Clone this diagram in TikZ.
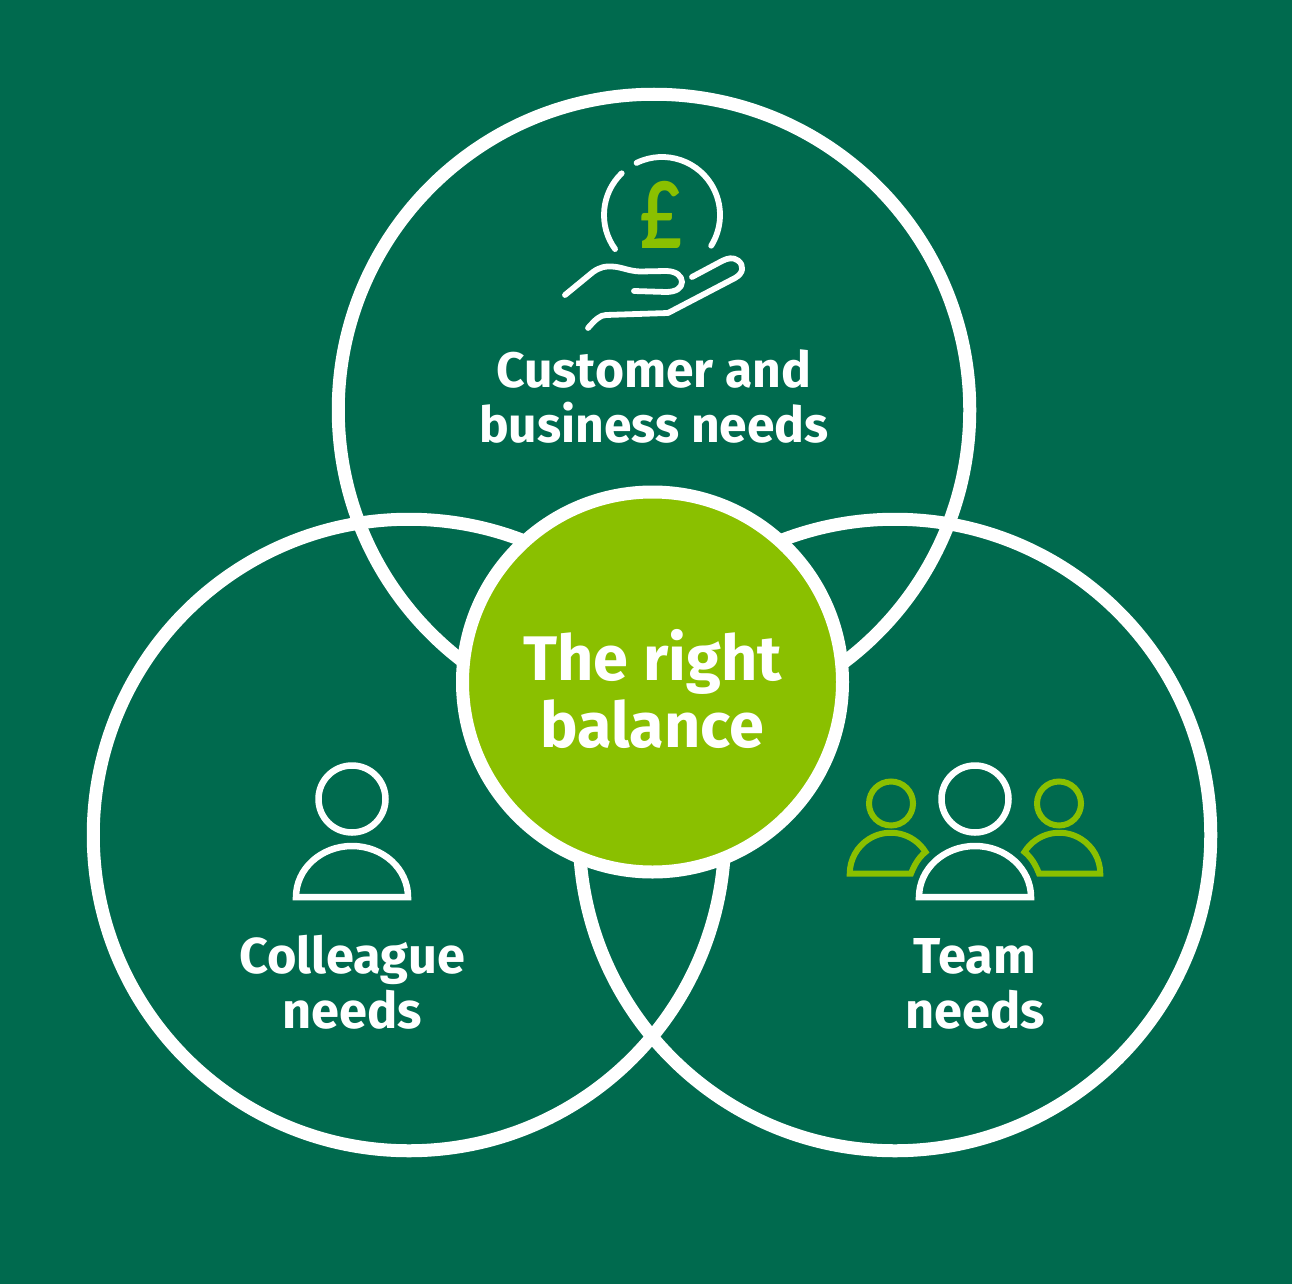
\documentclass[tikz,border=0pt]{standalone}
\usepackage{fontspec}
\setmainfont{Fira Sans}
\newfontfamily\poundfont{Lato}
\definecolor{bgG}{HTML}{006A4E}
\definecolor{limeG}{HTML}{8AC000}
\tikzset{
  ring/.style={draw=white,line width=13pt,circle,minimum size=631.5pt,inner sep=0pt,outer sep=0pt},
  hub/.style={draw=white,fill=limeG,line width=13pt,circle,minimum size=380pt,inner sep=0pt,outer sep=0pt},
  label/.style={text=white,align=center,font=\bfseries\fontsize{50.5}{55}\selectfont,inner sep=0pt},
  toplabel/.style={text=white,align=center,font=\bfseries\fontsize{49.8}{55}\selectfont,inner sep=0pt},
  hublabel/.style={text=white,align=center,font=\bfseries\fontsize{63}{67}\selectfont,inner sep=0pt},
  icon/.style={draw=white,line width=5.8pt,line cap=round,line join=round},
  bigperson/.style={draw=white,line width=6.5pt,miter limit=10},
  smallperson/.style={draw=limeG,line width=6pt,miter limit=10}
}
\begin{document}
\begin{tikzpicture}[x=1pt,y=1pt,yscale=-1]
\useasboundingbox (0,0) rectangle (1292,1284);
\fill[bgG] (0,0) rectangle (1292,1284);
% rings
\node[ring] (customer) at (654,410) {};
\node[ring] (colleague) at (409,835) {};
\node[ring] (team) at (895,835) {};
\node[hub] (balance) at (652.5,682) {};
% labels
\node[hublabel] (balanceText) at (652.5,689) {The right\\balance};
\node[toplabel] (customerText) at (654,397) {Customer and\\business needs};
\node[label] (colleagueText) at (352,982.5) {Colleague\\needs};
\node[label] (teamText) at (975,983.5) {Team\\needs};
% coin
\draw[icon] (662,215) ++(244:58) arc[start angle=244,end angle=392,radius=58];
\draw[icon] (662,215) ++(226:58) arc[start angle=226,end angle=144,radius=58];
\node[text=limeG,font=\poundfont\bfseries\fontsize{92}{92}\selectfont,inner sep=0pt,xscale=.78] (pound) at (661,215) {£};
% hand
\draw[icon] (565,295) -- (593,272) .. controls (600,267) and (606,266) .. (612,266.5)
  .. controls (622,267) and (628,271) .. (640,271.5) -- (666,271)
  .. controls (676,271) and (682,276) .. (682,282) .. controls (682,288) and (676,292) .. (666,292) -- (634,291);
\draw[icon] (588,328) .. controls (595,320) and (600,315) .. (606,315) -- (668,313) -- (735,278)
  .. controls (744,273) and (744,265) .. (738,260.5) .. controls (733,257) and (728,258) .. (722,261) -- (692,277);
% left person
\draw[bigperson] (352,799) circle[radius=33.5];
\draw[bigperson] (296,897) arc[start angle=180,end angle=360,x radius=56,y radius=51] -- cycle;
% team
\draw[smallperson] (891,803.5) circle[radius=22];
\draw[smallperson] (1059,803.5) circle[radius=22];
\draw[smallperson] (911,873.5) .. controls (914,866) and (918,858) .. (925.5,852)
  arc[start angle=328,end angle=180,radius=41] -- cycle;
\draw[smallperson] (1039,873.5) .. controls (1036,866) and (1032,858) .. (1024.5,852)
  arc[start angle=212,end angle=360,radius=41] -- cycle;
\draw[bigperson] (975,799) circle[radius=33.5];
\draw[bigperson] (919,897) arc[start angle=180,end angle=360,x radius=56,y radius=51] -- cycle;
\end{tikzpicture}
\end{document}
